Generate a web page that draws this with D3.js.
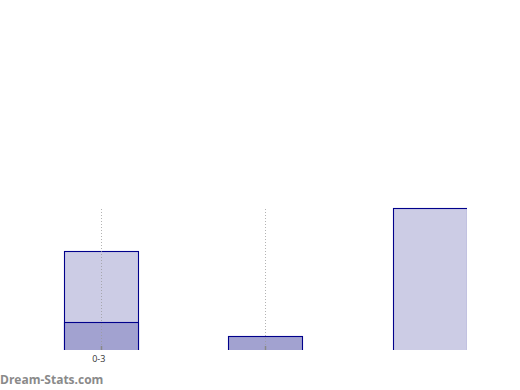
<!DOCTYPE html>
<html><head><meta charset="utf-8">
<script src="https://cdn.jsdelivr.net/npm/d3@7"></script>
<style>body{margin:0;background:#fff}svg{display:block}</style>
</head><body>
<div id="chart"></div>
<script>
const categories = ["0-3", "4-6", "7+"];
const tickLabels = ["0-3", "", ""];
const seriesLight = [70, 0, 100];
const seriesDark = [20, 10, 0];
const gridCategories = [0, 1];

const W = 520, H = 390;
const svg = d3.select("#chart").append("svg").attr("width", W).attr("height", H);

const x = d3.scaleBand().domain(d3.range(categories.length)).range([19, 511.5]).paddingInner(0.5502).paddingOuter(0.272);
const y = d3.scaleLinear().domain([0, 100]).range([350, 208]);
const bw = Math.round(x.bandwidth());

svg.append("defs").append("clipPath").attr("id", "clip")
  .append("rect").attr("x", 0).attr("y", 0).attr("width", 467).attr("height", 350);

const g = svg.append("g").attr("clip-path", "url(#clip)");

function bars(cls, data, fill) {
  g.selectAll("rect." + cls).data(data).join("rect")
    .attr("class", cls)
    .attr("x", (d, i) => Math.round(x(i)) + 0.5)
    .attr("y", d => Math.round(y(d)) + 0.5)
    .attr("width", bw)
    .attr("height", d => y(0) - y(d) + 2)
    .attr("fill", fill)
    .attr("stroke", "#00008b")
    .attr("stroke-width", 1.1)
    .attr("display", d => d > 0 ? null : "none");
}
bars("light", seriesLight, "#ccccE5");
bars("dark", seriesDark, "#a2a2d0");

// dotted gridlines
const gx = i => Math.round(x(i)) + Math.floor(bw / 2) + 0.5;
svg.selectAll("line.grid").data(gridCategories).join("line")
  .attr("class", "grid")
  .attr("x1", gx).attr("x2", gx)
  .attr("y1", 209).attr("y2", 350)
  .attr("stroke", "#999")
  .attr("stroke-opacity", 0.75)
  .attr("stroke-dasharray", "1,2");

// tick marks (inside)
svg.selectAll("line.tick").data(gridCategories).join("line")
  .attr("class", "tick")
  .attr("x1", gx).attr("x2", gx)
  .attr("y1", 346).attr("y2", 350)
  .attr("stroke", "#888")
  .attr("stroke-width", 1.5);

// axis labels
const axis = d3.axisBottom(x).tickSize(0).tickFormat(i => tickLabels[i]);
const ax = svg.append("g").attr("transform", "translate(-2,351)").call(axis);
ax.select(".domain").remove();
ax.selectAll("text").attr("font-family", "Open Sans, DejaVu Sans, sans-serif").attr("font-size", 9).attr("fill", "#333").attr("dy", "0.9em");

svg.append("text").attr("x", 0).attr("y", 384)
  .attr("font-family", "Open Sans, DejaVu Sans, sans-serif")
  .attr("font-size", 12).attr("font-weight", "bold").attr("fill", "#8a8a8a")
  .text("Dream-Stats.com");
</script>
</body></html>
